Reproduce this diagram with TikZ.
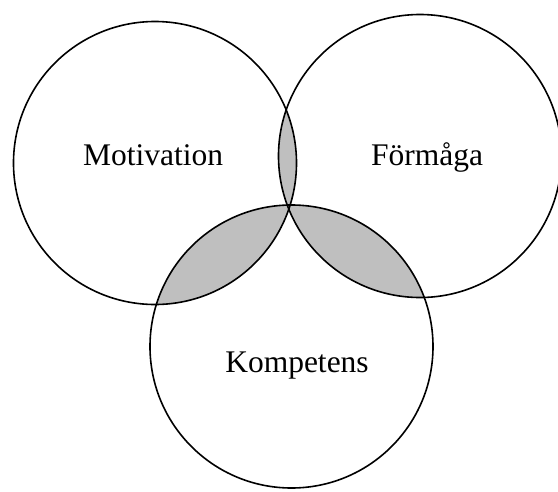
\documentclass[tikz,border=0pt]{standalone}
\usepackage{fontspec}
\setmainfont{Liberation Serif}
\begin{document}
\begin{tikzpicture}[x=1pt,y=-1pt,
  ring/.style={circle,draw=black,line width=1.6pt,minimum size=283pt,inner sep=0pt},
  lens/.style={fill=black!25},
  lbl/.style={font=\fontsize{31.5}{36}\selectfont,anchor=base,inner sep=0pt}]
\useasboundingbox (0,0) rectangle (558,491);
\coordinate (cl) at (155,163);
\coordinate (cr) at (420,156);
\coordinate (cb) at (291.5,346.5);
\begin{scope}
  \clip (cl) circle (141.5pt);
  \fill[lens] (cr) circle (141.5pt);
  \fill[lens] (cb) circle (141.5pt);
\end{scope}
\begin{scope}
  \clip (cr) circle (141.5pt);
  \fill[lens] (cb) circle (141.5pt);
\end{scope}
\node[ring] (L) at (cl) {};
\node[ring] (R) at (cr) {};
\node[ring] (B) at (cb) {};
\node[lbl] (mot) at (153,165) {Motivation};
\node[lbl] (for) at (427,165) {Förmåga};
\node[lbl] (kom) at (297,372) {Kompetens};
\end{tikzpicture}
\end{document}
